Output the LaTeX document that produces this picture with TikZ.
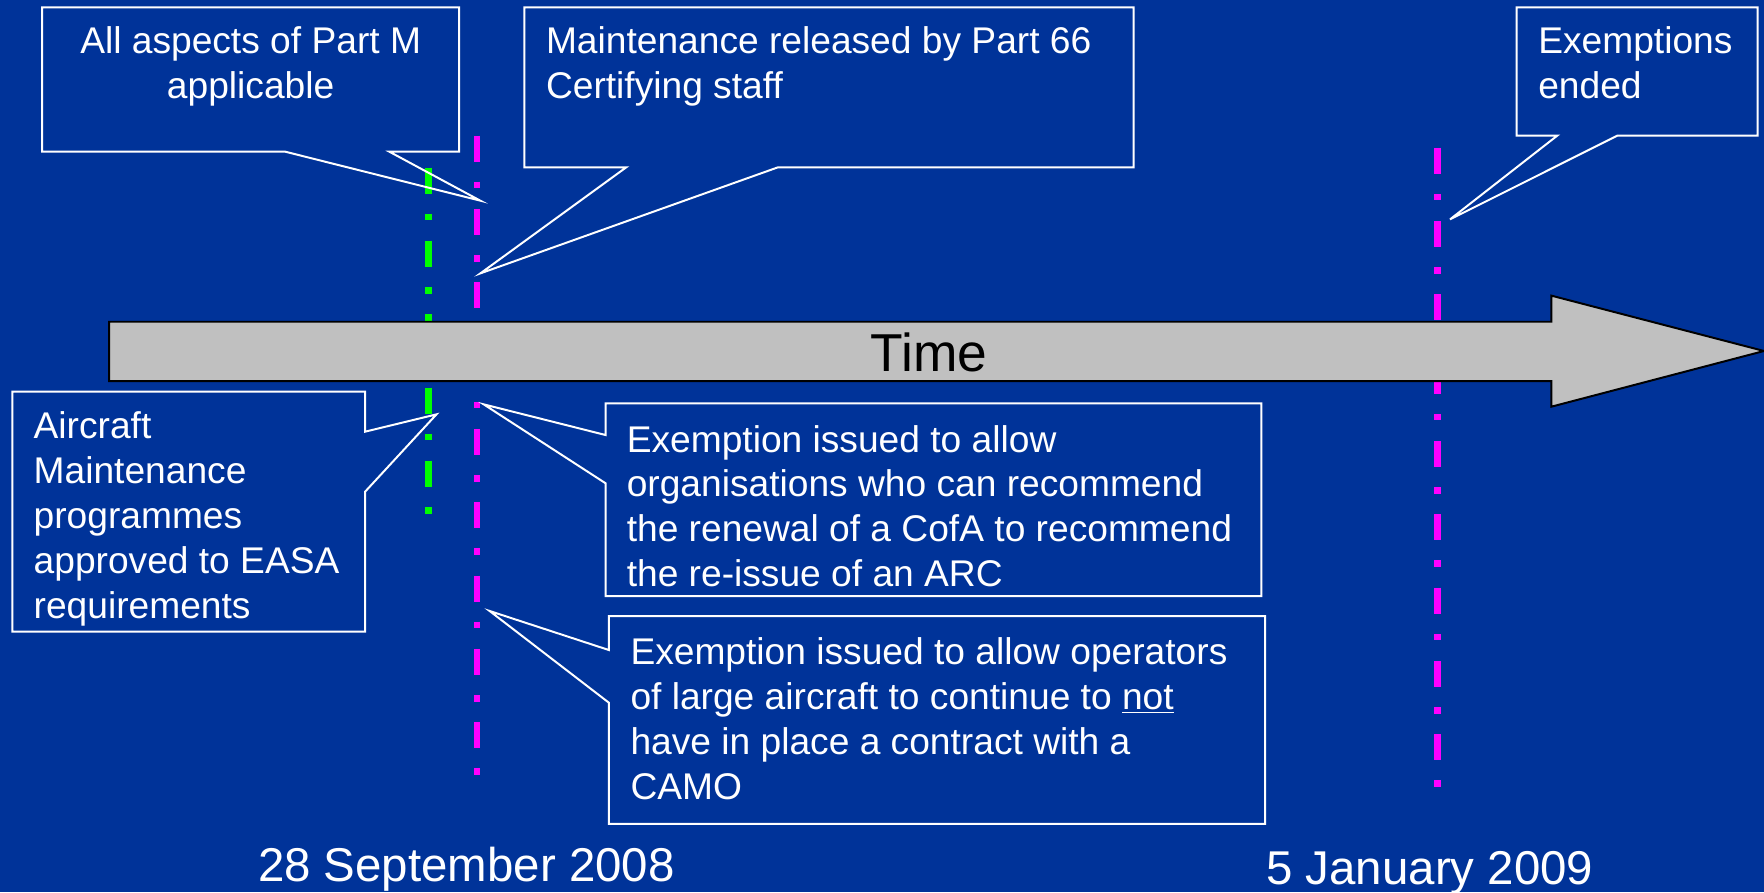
\documentclass[tikz,border=0pt]{standalone}
\usepackage{fontspec}
\setmainfont{Liberation Sans}
\usetikzlibrary{positioning,fit}
\definecolor{slideblue}{RGB}{0,51,153}
\definecolor{arrowgrey}{RGB}{192,192,192}
\definecolor{linegreen}{RGB}{0,255,0}
\definecolor{linemagenta}{RGB}{255,0,255}
\begin{document}
\begin{tikzpicture}[x=0.02cm,y=-0.02cm,
    box/.style={inner sep=0pt,outer sep=0pt},
    callout/.style={draw=white,line width=1pt,line join=miter},
    txt/.style={text=white,inner sep=0pt,anchor=north west,align=left,font=\fontsize{18.8}{22.75}\selectfont},
    datelabel/.style={text=white,inner sep=0pt,anchor=base,font=\fontsize{24}{29}\selectfont},
    dateline/.style={line width=3.4pt,dash pattern=on 13.1pt off 10.2pt on 3.4pt off 10.4pt}]

    \useasboundingbox (0,0) rectangle (1568,793);
    \fill[slideblue] (0,0) rectangle (1568,793);

    % date lines
    \coordinate (amptop) at (381,149);
    \coordinate (ampbot) at (381,457);
    \coordinate (septtop) at (424,120.6);
    \coordinate (septbot) at (424,689.5);
    \coordinate (jantop) at (1277.6,131.3);
    \coordinate (janbot) at (1277.6,700.5);
    \draw[dateline,linegreen] (amptop) -- (ampbot);
    \draw[dateline,linemagenta] (septtop) -- (septbot);
    \draw[dateline,linemagenta] (jantop) -- (janbot);

    % time arrow
    \draw[fill=arrowgrey,line width=1pt] (97,286) -- (1379,286) -- (1379,262.8) -- (1568,312)
        -- (1379,361.5) -- (1379,338.7) -- (97,338.7) -- cycle;
    \node[font=\fontsize{27}{32}\selectfont,inner sep=0pt,anchor=base] (time) at (826,330.4) {Time};

    % callout boxes
    \node[box,fit={(37.4,6.5) (408.2,134.8)}] (partm) {};
    \node[box,fit={(466.1,6.5) (1007.6,148.7)}] (release) {};
    \node[box,fit={(1348,6.5) (1562.3,120.6)}] (ended) {};
    \node[box,fit={(11.1,348.1) (324.6,561.5)}] (amp) {};
    \node[box,fit={(538.3,358.5) (1121.2,529.8)}] (arc) {};
    \node[box,fit={(541.2,547.6) (1124.5,732.4)}] (camo) {};

    \coordinate (partmtip) at (427,178.4);
    \coordinate (releasetip) at (427,243);
    \coordinate (endedtip) at (1288.9,195);
    \coordinate (amptip) at (388,368.3);
    \coordinate (arctip) at (429.9,359.4);
    \coordinate (camotip) at (435.2,543.1);

    \draw[callout] (partm.south west) |- (partm.north east) |- ([shift={(308.6,0)}]partm.south west)
        -- (partmtip) -- ([shift={(216,0)}]partm.south west) -- cycle;
    \draw[callout] (release.south west) |- (release.north east) |- ([shift={(225.5,0)}]release.south west)
        -- (releasetip) -- ([shift={(90.6,0)}]release.south west) -- cycle;
    \draw[callout] (ended.south west) |- (ended.north east) |- ([shift={(89.6,0)}]ended.south west)
        -- (endedtip) -- ([shift={(36.2,0)}]ended.south west) -- cycle;
    \draw[callout] (amp.south east) -| (amp.north west) -- (amp.north east) -- ([shift={(0,35.6)}]amp.north east)
        -- (amptip) -- ([shift={(0,88.9)}]amp.north east) -- cycle;
    \draw[callout] (arc.north west) -| (arc.south east) -- (arc.south west) -- ([shift={(0,71.1)}]arc.north west)
        -- (arctip) -- ([shift={(0,28.2)}]arc.north west) -- cycle;
    \draw[callout] (camo.north west) -| (camo.south east) -- (camo.south west) -- ([shift={(0,77)}]camo.north west)
        -- (camotip) -- ([shift={(0,30.2)}]camo.north west) -- cycle;

    % texts
    \node[txt,anchor=north,align=center] (partmtxt) at ([shift={(0,17.2)}]partm.north) {All aspects of Part M\\applicable};
    \node[txt] (releasetxt) at ([shift={(18.9,17.2)}]release.north west) {Maintenance released by Part 66\\Certifying staff};
    \node[txt] (endedtxt) at ([shift={(19,17.2)}]ended.north west) {Exemptions\\ended};
    \node[txt] (amptxt) at ([shift={(18.5,17.6)}]amp.north west) {Aircraft\\Maintenance\\programmes\\approved to EASA\\requirements};
    \node[txt] (arctxt) at ([shift={(18.5,19)}]arc.north west) {Exemption issued to allow\\organisations who can recommend\\the renewal of a CofA to recommend\\the re-issue of an ARC};
    \node[txt] (camotxt) at ([shift={(18.9,19)}]camo.north west) {Exemption issued to allow operators\\of large aircraft to continue to \underline{not}\\have in place a contract with a\\CAMO};

    \node[datelabel] (sept) at (414.6,783.7) {28 September 2008};
    \node[datelabel] (jan) at (1271,785.8) {5 January 2009};

\end{tikzpicture}
\end{document}
